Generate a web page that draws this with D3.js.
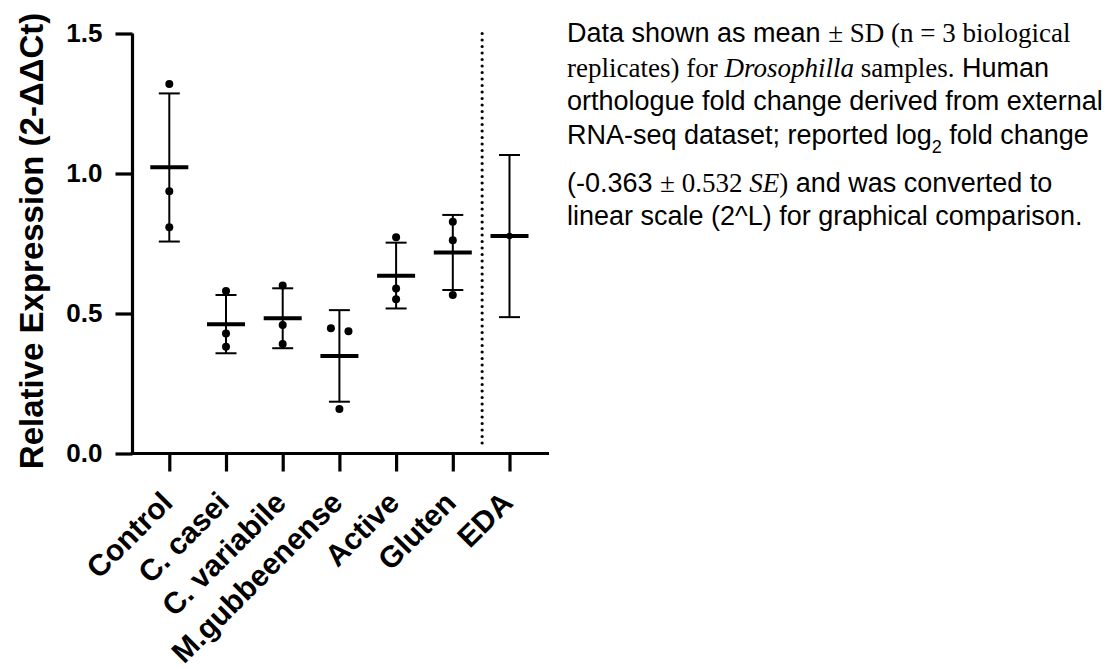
<!DOCTYPE html>
<html>
<head>
<meta charset="utf-8">
<script src="https://cdn.jsdelivr.net/npm/d3@7"></script>
<style>
  body { margin: 0; background: #fff; }
  svg { display: block; }
</style>
</head>
<body>
<div id="chart"></div>
<script>
// groups along the x axis
var groups = ['Control', 'C. casei', 'C. variabile', 'M.gubbeenense', 'Active', 'Gluten', 'EDA'];

// mean and SD bounds
var means = [1.022, 0.462, 0.483, 0.348, 0.635, 0.718, 0.777];
var upper = [1.286, 0.566, 0.590, 0.512, 0.753, 0.852, 1.066];
var lower = [0.757, 0.358, 0.376, 0.185, 0.518, 0.584, 0.487];

// individual replicates (EDA has the single external value)
var replicates = [
  [1.320, 0.937, 0.808],
  [0.580, 0.429, 0.381],
  [0.600, 0.459, 0.391],
  [0.447, 0.437, 0.159],
  [0.772, 0.589, 0.551],
  [0.828, 0.762, 0.566],
  [0.777]
];
// horizontal jitter of replicate dots, in units of the group step
var jitter = [
  [0, 0, 0],
  [0, 0, 0],
  [0, 0, 0],
  [-0.15, 0.16, 0],
  [0, 0, 0],
  [0, 0, 0],
  [0]
];

var yTicks = [0, 0.5, 1.0, 1.5];

var width = 1114, height = 669;
var svg = d3.select('#chart').append('svg')
  .attr('width', width)
  .attr('height', height);

var x = d3.scalePoint().domain(groups).range([169.3, 509.5]);
var y = d3.scaleLinear().domain([0, 1.5]).range([453.5, 33.5]);
var step = x.step();
var axisX = 132.5;

var sans = 'Liberation Sans, Arial, Helvetica, sans-serif';
var serif = 'Liberation Serif, Times New Roman, serif';

// y axis
var yAxis = svg.append('g')
  .attr('transform', 'translate(' + axisX + ',0)')
  .call(d3.axisLeft(y).tickValues(yTicks).tickFormat(d3.format('.1f')).tickSize(17).tickPadding(13));
yAxis.select('.domain').attr('stroke-width', 3.2).attr('d', 'M0,' + y(1.5) + 'V' + y(0));
yAxis.selectAll('.tick line').attr('stroke-width', 3.2);
yAxis.selectAll('.tick text')
  .attr('font-family', sans)
  .attr('font-weight', 'bold')
  .attr('font-size', 26)
  .attr('fill', '#000');

// x axis
var xAxis = svg.append('g')
  .attr('transform', 'translate(0,' + y(0) + ')')
  .call(d3.axisBottom(x).tickSize(18).tickFormat(''));
xAxis.select('.domain').attr('stroke-width', 3.2).attr('d', 'M' + (axisX - 1.6) + ',0H549');
xAxis.selectAll('.tick line').attr('stroke-width', 3.2);

// rotated category labels
svg.append('g').selectAll('text')
  .data(groups)
  .enter()
  .append('text')
  .attr('transform', function(d){ return 'translate(' + (x(d) + 5) + ',' + (y(0) + 51) + ') rotate(-45)'; })
  .attr('text-anchor', 'end')
  .attr('font-family', sans)
  .attr('font-weight', 'bold')
  .attr('font-size', 30)
  .text(function(d){ return d; });

// y title
svg.append('text')
  .attr('transform', 'translate(43,' + 241 + ') rotate(-90)')
  .attr('text-anchor', 'middle')
  .attr('font-family', sans)
  .attr('font-weight', 'bold')
  .attr('font-size', 33)
  .text('Relative Expression (2-ΔΔCt)');

// dotted separator before EDA
var sepX = (x('Gluten') + x('EDA')) / 2 + 1;
svg.append('line')
  .attr('x1', sepX).attr('x2', sepX)
  .attr('y1', y(1.5))
  .attr('y2', y(0) - 5)
  .attr('stroke', '#000')
  .attr('stroke-width', 3.2)
  .attr('stroke-linecap', 'round')
  .attr('stroke-dasharray', '0,6.5');

// error bars
var marks = svg.append('g');
groups.forEach(function(g, i){
  var cx = x(g);
  marks.append('line')
    .attr('x1', cx).attr('x2', cx)
    .attr('y1', y(upper[i])).attr('y2', y(lower[i]))
    .attr('stroke', '#000').attr('stroke-width', 2);
  [upper[i], lower[i]].forEach(function(v){
    marks.append('line')
      .attr('x1', cx - 10.5).attr('x2', cx + 10.5)
      .attr('y1', y(v)).attr('y2', y(v))
      .attr('stroke', '#000').attr('stroke-width', 2);
  });
  marks.append('line')
    .attr('x1', cx - 19).attr('x2', cx + 19)
    .attr('y1', y(means[i])).attr('y2', y(means[i]))
    .attr('stroke', '#000').attr('stroke-width', 4);
  marks.selectAll('circle.g' + i)
    .data(replicates[i])
    .enter()
    .append('circle')
    .attr('cx', function(d, j){ return cx + jitter[i][j] * step; })
    .attr('cy', function(d){ return y(d); })
    .attr('r', replicates[i].length > 1 ? 4 : 3.2)
    .attr('fill', '#000');
});

// note on the right
var note = [
  [['Data shown as mean ', 's'], ['± SD (n = 3 biological', 'r']],
  [['replicates) for ', 'r'], ['Drosophilla', 'ri'], [' samples', 'r'], ['.', 'r'], [' Human', 's']],
  [['orthologue fold change derived from external', 's']],
  [['RNA-seq dataset; reported log', 's'], ['2', 'sub'], [' fold change', 's']],
  [['(-0.363 ', 's'], ['± 0.532 ', 'r'], ['SE', 'ri'], [')', 'r'], [' and was converted to', 's']],
  [['linear scale (2^L) for graphical comparison.', 's']]
];
var noteBase = [41.5, 76.5, 110, 143.5, 191.5, 225];

var noteG = svg.append('g').attr('fill', '#000');
note.forEach(function(line, li){
  var t = noteG.append('text')
    .attr('x', 567)
    .attr('y', noteBase[li]);
  line.forEach(function(part, k){
    var span = t.append('tspan').text(part[0]);
    if (part[1] === 's') {
      span.attr('font-family', sans).attr('font-size', 27);
    } else if (part[1] === 'sub') {
      span.attr('font-family', sans).attr('font-size', 18).attr('dy', 9);
    } else {
      span.attr('font-family', serif).attr('font-size', 27);
      if (part[1] === 'ri') span.attr('font-style', 'italic');
    }
    // undo the subscript shift
    if (k > 0 && line[k - 1][1] === 'sub') span.attr('dy', -9);
  });
});
</script>
</body>
</html>
